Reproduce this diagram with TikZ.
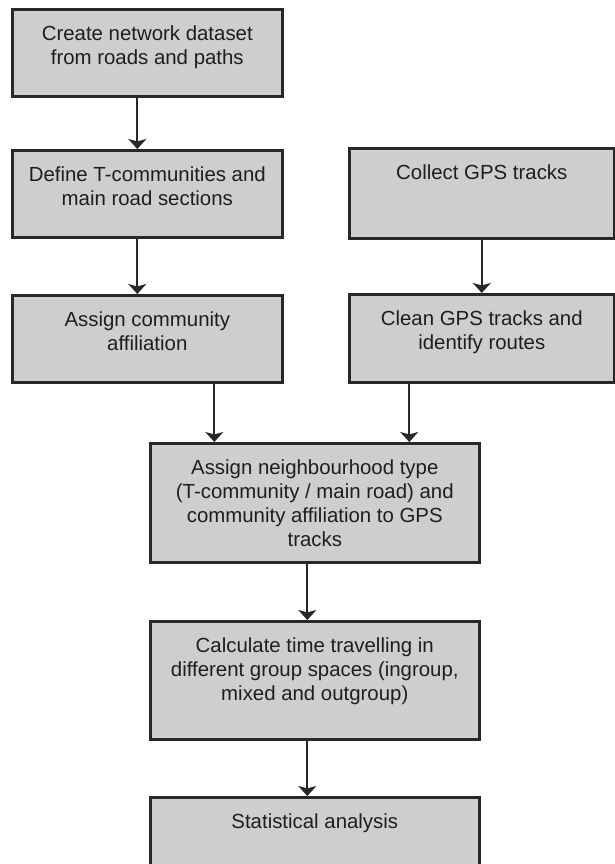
\documentclass[tikz,border=0pt]{standalone}
\usepackage{fontspec}
\setmainfont{Liberation Sans}
\usetikzlibrary{arrows.meta,positioning,calc}
\definecolor{boxfill}{RGB}{206,206,206}
\definecolor{boxline}{RGB}{40,40,40}
\definecolor{inktext}{RGB}{30,30,30}

\begin{document}
\begin{tikzpicture}[
  x=0.5pt, y=-0.5pt,
  box/.style={rectangle,draw=boxline,fill=boxfill,line width=1.3pt,anchor=north west,inner sep=0pt},
  sidebox/.style={box,minimum width=135pt},
  midbox/.style={box,minimum width=164.5pt},
  lbl/.style={anchor=north,yshift=-8.5pt,align=center,inner sep=0pt,text=inktext,
    font=\fontsize{10.2}{12}\selectfont},
  arrow/.style={-{Stealth[width=9pt,length=5pt,inset=1.2pt]},line width=1pt,draw=boxline}
]
\useasboundingbox (0,0) rectangle (615,864);

% Left column: network preparation
\node[sidebox,minimum height=43.5pt,label={[lbl]north:{Create network dataset\\from roads and paths}}] (net) at (11,8) {};
\node[sidebox,minimum height=43.5pt,label={[lbl]north:{Define T-communities and\\main road sections}}] (define) at (11,149) {};
\node[sidebox,minimum height=43.5pt,label={[lbl]north:{Assign community\\affiliation}}] (assign) at (11,294) {};

% Right column: GPS data
\node[box,minimum width=132.5pt,minimum height=45pt,label={[lbl]north:{Collect GPS tracks}}] (collect) at (348,147) {};
\node[box,minimum width=132.5pt,minimum height=44pt,label={[lbl]north:{Clean GPS tracks and\\identify routes}}] (clean) at (348,293) {};

% Centre column: joining and analysis
\node[midbox,minimum height=59.5pt,label={[lbl]north:{Assign neighbourhood type\\(T-community / main road) and\\community affiliation to GPS\\tracks}}] (join) at (149,442) {};
\node[midbox,minimum height=59pt,label={[lbl]north:{Calculate time travelling in\\different group spaces (ingroup,\\mixed and outgroup)}}] (calc) at (149,620) {};
\node[midbox,minimum height=37pt,label={[lbl]north:{Statistical analysis}}] (stats) at (149,796) {};

% Arrows
\draw[arrow] ([xshift=-5pt]net.south) -- ([xshift=-5pt]define.north);
\draw[arrow] ([xshift=-5pt]define.south) -- ([xshift=-5pt]assign.north);
\draw[arrow] (collect.south) -- (clean.north);
\draw[arrow] ([xshift=33.5pt]assign.south) -- ([xshift=33.5pt]assign.south |- join.north);
\draw[arrow] ([xshift=-36.25pt]clean.south) -- ([xshift=-36.25pt]clean.south |- join.north);
\draw[arrow] ([xshift=-3.75pt]join.south) -- ([xshift=-3.75pt]calc.north);
\draw[arrow] ([xshift=-3.75pt]calc.south) -- ([xshift=-3.75pt]stats.north);

\end{tikzpicture}
\end{document}
